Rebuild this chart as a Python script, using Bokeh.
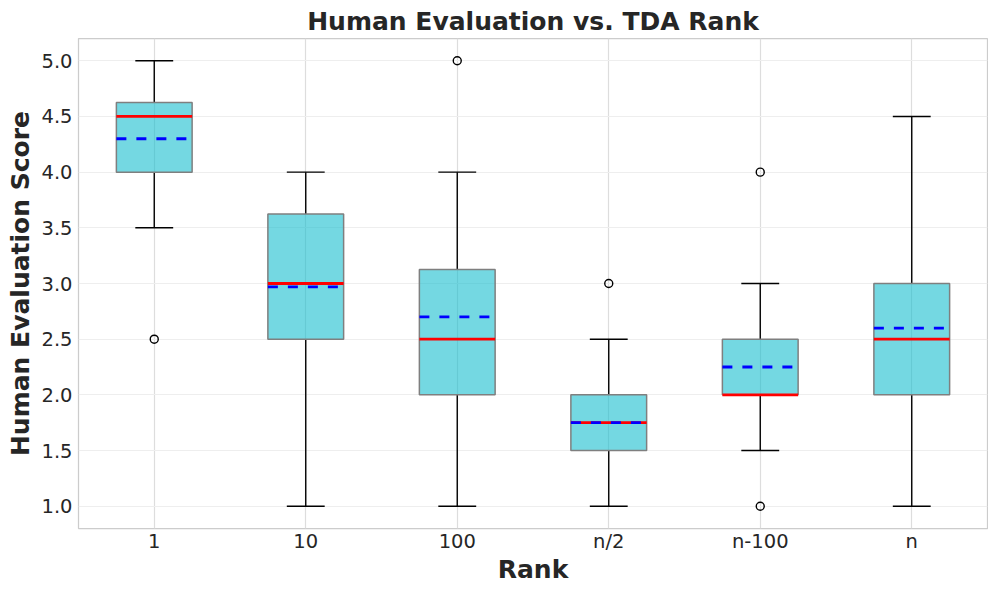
from bokeh.plotting import figure
from bokeh.models import ColumnDataSource, FactorRange, FixedTicker, PrintfTickFormatter, Range1d
from bokeh.transform import dodge
from bokeh.core.properties import value
from bokeh.embed import file_html
from bokeh.resources import INLINE

# ---- data ----
categories = ["1", "10", "100", "n/2", "n-100", "n"]
q1 = [4.0, 2.5, 2.0, 1.5, 2.0, 2.0]
median = [4.5, 3.0, 2.5, 1.75, 2.0, 2.5]
q3 = [4.625, 3.625, 3.125, 2.0, 2.5, 3.0]
mean = [4.3, 2.97, 2.7, 1.75, 2.25, 2.6]
whisker_lo = [3.5, 1.0, 1.0, 1.0, 1.5, 1.0]
whisker_hi = [5.0, 4.0, 4.0, 2.5, 3.0, 4.5]
outlier_cat = ["1", "100", "n/2", "n-100", "n-100"]
outlier_val = [2.5, 5.0, 3.0, 4.0, 1.0]
y_ticks = [1.0, 1.5, 2.0, 2.5, 3.0, 3.5, 4.0, 4.5, 5.0]

FONT = "DejaVu Sans"
TXT = "#262626"

p = figure(
    width=988, height=586,
    x_range=FactorRange(*categories, range_padding=0),
    y_range=Range1d(0.8, 5.2),
    output_backend="svg", toolbar_location=None,
    min_border_left=78, min_border_right=1, min_border_top=38, min_border_bottom=58,
    title="Human Evaluation vs. TDA Rank",
)

src = ColumnDataSource(dict(cat=categories, q1=q1, med=median, q3=q3, mean=mean,
                            lo=whisker_lo, hi=whisker_hi))

# whiskers
p.segment(x0="cat", y0="q3", x1="cat", y1="hi", source=src, line_color="black", line_width=1.4)
p.segment(x0="cat", y0="q1", x1="cat", y1="lo", source=src, line_color="black", line_width=1.4)
# caps
p.segment(x0=dodge("cat", -0.125, range=p.x_range), y0="hi",
          x1=dodge("cat", 0.125, range=p.x_range), y1="hi",
          source=src, line_color="black", line_width=1.4)
p.segment(x0=dodge("cat", -0.125, range=p.x_range), y0="lo",
          x1=dodge("cat", 0.125, range=p.x_range), y1="lo",
          source=src, line_color="black", line_width=1.4)
# boxes
p.vbar(x="cat", bottom="q1", top="q3", width=0.5, source=src,
       fill_color="#17becf", fill_alpha=0.6, line_color="#7f7f7f", line_width=1.5)
# median
p.segment(x0=dodge("cat", -0.25, range=p.x_range), y0="med",
          x1=dodge("cat", 0.25, range=p.x_range), y1="med",
          source=src, line_color="red", line_width=2.8)
# mean
p.segment(x0=dodge("cat", -0.25, range=p.x_range), y0="mean",
          x1=dodge("cat", 0.25, range=p.x_range), y1="mean",
          source=src, line_color="blue", line_width=2.8, line_dash=value("10 4.5"))
# outliers
p.scatter(x=outlier_cat, y=outlier_val, marker="circle", size=8,
          fill_color=None, line_color="black", line_width=1.4)

# styling
p.title.text_font = FONT
p.title.text_font_size = "25px"
p.title.text_font_style = "bold"
p.title.text_color = TXT
p.title.align = "center"
p.title.standoff = 5
p.title.offset = 0

p.outline_line_color = "#cccccc"
p.outline_line_width = 1.25

p.xgrid.grid_line_color = "#dddddd"
p.xgrid.grid_line_width = 1.2
p.ygrid.grid_line_color = "#eeeeee"
p.ygrid.grid_line_width = 1.0
p.yaxis.ticker = FixedTicker(ticks=y_ticks)
p.yaxis.formatter = PrintfTickFormatter(format="%.1f")

for ax in (p.xaxis, p.yaxis):
    ax.axis_line_color = None
    ax.major_tick_line_color = None
    ax.minor_tick_line_color = None
    ax.major_tick_out = 0
    ax.major_tick_in = 0
    ax.minor_tick_out = 0
    ax.minor_tick_in = 0
    ax.major_label_text_font = FONT
    ax.major_label_text_font_size = "19.5px"
    ax.major_label_text_color = TXT
    ax.axis_label_text_font = FONT
    ax.axis_label_text_font_size = "25px"
    ax.axis_label_text_font_style = "bold"
    ax.axis_label_text_color = TXT

p.yaxis.major_label_standoff = 6
p.yaxis.axis_label_standoff = 3
p.xaxis.major_label_standoff = 1
p.xaxis.axis_label_standoff = -1

p.xaxis.axis_label = "Rank"
p.yaxis.axis_label = "Human Evaluation Score"

open("out.html", "w").write(file_html(p, INLINE))
